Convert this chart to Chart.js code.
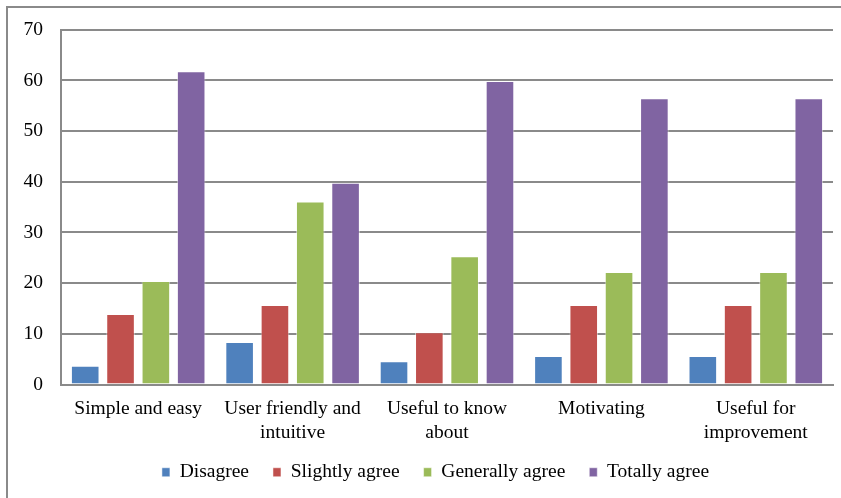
<!DOCTYPE html>
<html>
<head>
<meta charset="utf-8">
<script src="https://cdn.jsdelivr.net/npm/chart.js@4/dist/chart.umd.min.js"></script>
<style>
  html, body { margin: 0; padding: 0; background: #fff; }
  #wrap { position: relative; width: 841px; height: 498px; overflow: hidden; }
  #frame { position: absolute; left: 6px; top: 6px; width: 900px; height: 600px; border-left: 2px solid #8a8a8a; border-top: 2px solid #8a8a8a; box-sizing: border-box; pointer-events: none; }
  canvas { position: absolute; left: 0; top: 0; }
</style>
</head>
<body>
<div id="wrap">
  <canvas id="c" width="841" height="498"></canvas>
  <div id="frame"></div>
</div>
<script>
const categories = [
  "Simple and easy",
  ["User friendly and", "intuitive"],
  ["Useful to know", "about"],
  "Motivating",
  ["Useful for", "improvement"]
];
const seriesNames = ["Disagree", "Slightly agree", "Generally agree", "Totally agree"];
const disagree = [3.7, 8.4, 4.6, 5.6, 5.6];
const slightlyAgree = [13.9, 15.7, 10.3, 15.7, 15.7];
const generallyAgree = [20.4, 36.1, 25.3, 22.2, 22.2];
const totallyAgree = [61.8, 39.8, 59.9, 56.5, 56.5];
const yTicks = [0, 10, 20, 30, 40, 50, 60, 70];

const colors = ["#4F81BD", "#C0504D", "#9BBB59", "#8064A2"];
const seriesValues = [disagree, slightlyAgree, generallyAgree, totallyAgree];

const font = "'Liberation Serif', 'Times New Roman', serif";
const fs = 19.5;
const legendShift = 18;
const legendOffsetX = 16;

// Tighten the legend's vertical footprint while keeping wide horizontal spacing.
const legendTweak = {
  id: "legendTweak",
  afterInit(chart) {
    const lg = chart.legend;
    if (!lg) return;
    const orig = lg.fit.bind(lg);
    lg.fit = function () { orig(); this.height -= legendShift; };
  },
  afterLayout(chart) {
    const lg = chart.legend;
    if (!lg) return;
    lg.top -= legendShift;
    lg.left += legendOffsetX;
    lg.right += legendOffsetX;
  }
};

new Chart(document.getElementById("c"), {
  type: "bar",
  data: {
    labels: categories,
    datasets: seriesNames.map((name, i) => ({
      label: name,
      data: seriesValues[i],
      backgroundColor: colors[i],
      borderColor: "rgba(255,255,255,0.5)",
      borderWidth: 1,
      categoryPercentage: 0.915,
      barPercentage: 0.81
    }))
  },
  plugins: [legendTweak],
  options: {
    responsive: false,
    animation: false,
    devicePixelRatio: 1,
    layout: { padding: { top: 28, left: 6, right: 8, bottom: 6 } },
    plugins: {
      legend: {
        position: "bottom",
        labels: {
          font: { family: font, size: fs },
          color: "#000",
          boxWidth: 8,
          boxHeight: 9,
          padding: 24
        }
      },
      tooltip: { enabled: false }
    },
    scales: {
      x: {
        grid: { display: false, drawTicks: false },
        border: { display: true, color: "#8a8a8a", width: 2 },
        ticks: {
          font: { family: font, size: fs, lineHeight: "24px" },
          color: "#000",
          padding: 12,
          maxRotation: 0,
          autoSkip: false
        }
      },
      y: {
        min: 0,
        max: 70,
        afterBuildTicks: (axis) => { axis.ticks = yTicks.map(v => ({ value: v })); },
        grid: { color: "#8a8a8a", lineWidth: 2, drawTicks: false },
        border: { display: true, color: "#8a8a8a", width: 2 },
        ticks: {
          font: { family: font, size: fs },
          color: "#000",
          padding: 18
        },
        afterFit: (scale) => { scale.width = 55; }
      }
    }
  }
});
</script>
</body>
</html>
